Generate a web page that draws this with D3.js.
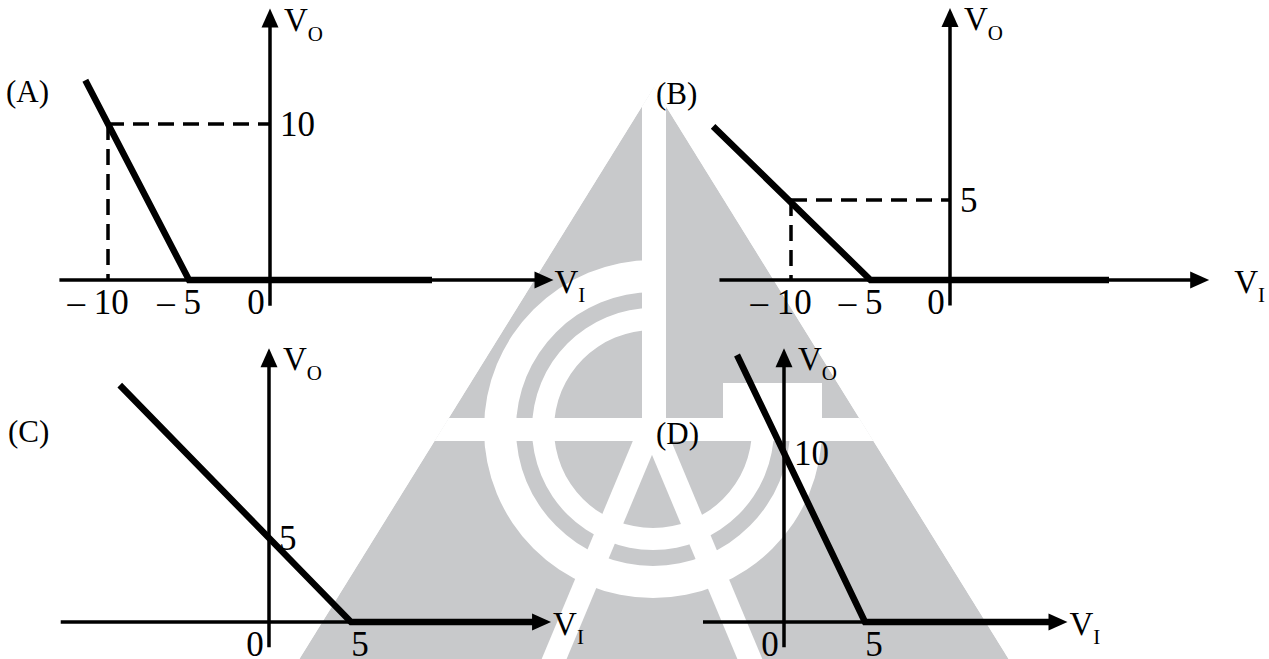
<!DOCTYPE html>
<html>
<head>
<meta charset="utf-8">
<script src="https://cdn.jsdelivr.net/npm/d3@7"></script>
<style>
  body { margin: 0; background: #fff; }
  svg { display: block; }
  text { font-family: "Liberation Serif", "Times New Roman", Times, serif; fill: #000; }
</style>
</head>
<body>
<script>
// transfer characteristics, four options
var panelNames = ["(A)", "(B)", "(C)", "(D)"];

var viA = [-11.4, -5, 10],  voA = [12.8, 0, 0];
var viB = [-14.9, -5, 10],  voB = [9.6, 0, 0];
var viC = [-9.1, 5, 16.2],  voC = [14.1, 0, 0];
var viD = [-2.9, 5, 16.4],  voD = [15.8, 0, 0];

var xTicksA = [-10, -5, 0], xTicksB = [-10, -5, 0], xTicksC = [0, 5], xTicksD = [0, 5];
var yTicksA = [10], yTicksB = [5], yTicksC = [5], yTicksD = [10];

// dashed guide to a point on the curve (A and B only)
var guideA = [-10, 10], guideB = [-10, 5];

var W = 1269, H = 659;
var gray = "#c8c9cb";

var svg = d3.select("body").append("svg")
    .attr("width", W).attr("height", H)
    .style("background", "#fff");

// ---- watermark (grey triangle logo) ----
var apex = [654, 87], side = 0.62;
var tri = [apex, [apex[0] - side * 613, 700], [apex[0] + side * 613, 700]];
svg.append("defs").append("clipPath").attr("id", "tri")
  .append("polygon").attr("points", tri.join(" "));

var wm = svg.append("g").attr("clip-path", "url(#tri)");
wm.append("polygon").attr("points", tri.join(" ")).attr("fill", gray);
wm.append("rect").attr("x", 642).attr("y", 60).attr("width", 24).attr("height", 360).attr("fill", "#fff");
wm.append("rect").attr("x", 250).attr("y", 418).attr("width", 800).attr("height", 23).attr("fill", "#fff");
wm.append("rect").attr("x", 723).attr("y", 383).attr("width", 99).attr("height", 36).attr("fill", "#fff");

var ring = d3.arc().startAngle(Math.PI / 2).endAngle(2 * Math.PI);
[[137, 169], [99, 121]].forEach(function (r) {
  wm.append("path")
    .attr("transform", "translate(653,429)")
    .attr("d", ring({innerRadius: r[0], outerRadius: r[1]}))
    .attr("fill", "#fff");
});
[[537, 700], [767, 700]].forEach(function (p) {
  wm.append("line")
    .attr("x1", 652).attr("y1", 425).attr("x2", p[0]).attr("y2", p[1])
    .attr("stroke", "#fff").attr("stroke-width", 23);
});

// ---- panels ----
// ox/oy = pixel origin, ux/uy = pixels per volt, xd/yd = axis extents in volts
var layout = [
  {ox: 270, oy: 280, ux: 16.2, uy: 15.6, xd: [-13, 17.5], yd: [-1.65, 17.4], lab: [6, 102],  viGap: 1},
  {ox: 950, oy: 280, ux: 15.9, uy: 16.0, xd: [-14.5, 16.3], yd: [-1.6, 17.0], lab: [656, 104], viGap: 25},
  {ox: 269, oy: 622, ux: 16.4, uy: 16.8, xd: [-12.7, 17.2], yd: [-1.5, 16.3], lab: [8, 442],  viGap: 2},
  {ox: 784, oy: 622, ux: 16.2, uy: 16.9, xd: [-5, 17.5],    yd: [-1.5, 16.2], lab: [656, 444], viGap: 2}
];
var curves = [[viA, voA], [viB, voB], [viC, voC], [viD, voD]];
var xTicks = [xTicksA, xTicksB, xTicksC, xTicksD];
var yTicks = [yTicksA, yTicksB, yTicksC, yTicksD];
var guides = [guideA, guideB, null, null];

var headLen = 19, headHalf = 8.5;

function fmt(v) { return v < 0 ? "\u2013 " + Math.abs(v) : String(v); }

layout.forEach(function (cfg, i) {
  var x = d3.scaleLinear().domain(cfg.xd).range(cfg.xd.map(function (v) { return cfg.ox + v * cfg.ux; }));
  var y = d3.scaleLinear().domain(cfg.yd).range(cfg.yd.map(function (v) { return cfg.oy - v * cfg.uy; }));
  var g = svg.append("g");

  var x0 = x(0), y0 = y(0);
  var xTip = x(cfg.xd[1]), yTip = y(cfg.yd[1]);

  // dashed guides
  var gd = guides[i];
  if (gd) {
    g.append("line").attr("x1", x(gd[0])).attr("y1", y(gd[1])).attr("x2", x(gd[0])).attr("y2", y0)
      .attr("stroke", "#000").attr("stroke-width", 3.5).attr("stroke-dasharray", "16,9");
    g.append("line").attr("x1", x(gd[0])).attr("y1", y(gd[1])).attr("x2", x0).attr("y2", y(gd[1]))
      .attr("stroke", "#000").attr("stroke-width", 3.5).attr("stroke-dasharray", "16,9");
  }

  // axes with arrow heads
  g.append("line").attr("x1", x(cfg.xd[0])).attr("y1", y0).attr("x2", xTip - headLen + 2).attr("y2", y0)
    .attr("stroke", "#000").attr("stroke-width", 3.5);
  g.append("path").attr("d", "M" + xTip + "," + y0 + "L" + (xTip - headLen) + "," + (y0 - headHalf) +
      "L" + (xTip - headLen) + "," + (y0 + headHalf) + "Z").attr("fill", "#000");
  g.append("line").attr("x1", x0).attr("y1", y(cfg.yd[0])).attr("x2", x0).attr("y2", yTip + headLen - 2)
    .attr("stroke", "#000").attr("stroke-width", 3.5);
  g.append("path").attr("d", "M" + x0 + "," + yTip + "L" + (x0 - headHalf) + "," + (yTip + headLen) +
      "L" + (x0 + headHalf) + "," + (yTip + headLen) + "Z").attr("fill", "#000");

  // transfer curve
  var c = curves[i];
  var pts = c[0].map(function (v, k) { return [v, c[1][k]]; });
  g.append("path")
    .attr("d", d3.line().x(function (d) { return x(d[0]); }).y(function (d) { return y(d[1]); })(pts))
    .attr("fill", "none").attr("stroke", "#000").attr("stroke-width", 6.5)
    .attr("stroke-linejoin", "miter");

  // tick labels
  xTicks[i].forEach(function (v) {
    var dx = v < 0 ? -10 : (v === 0 ? -14 : 9);
    g.append("text").attr("x", x(v) + dx).attr("y", y0 + 34)
      .attr("text-anchor", "middle").attr("font-size", 35)
      .text(fmt(v));
  });
  yTicks[i].forEach(function (v) {
    g.append("text").attr("x", x0 + 10).attr("y", y(v) + 12)
      .attr("font-size", 35).text(fmt(v));
  });

  // axis names
  var vo = g.append("text").attr("x", x0 + 14).attr("y", yTip + 22)
    .attr("font-size", 33);
  vo.append("tspan").text("V");
  vo.append("tspan").attr("font-size", 21).attr("dy", 10).text("O");

  var vi = g.append("text").attr("x", xTip + cfg.viGap).attr("y", y0 + 13)
    .attr("font-size", 33);
  vi.append("tspan").text("V");
  vi.append("tspan").attr("font-size", 21).attr("dy", 9).text("I");

  // option letter
  g.append("text").attr("x", cfg.lab[0]).attr("y", cfg.lab[1])
    .attr("font-size", 31).text(panelNames[i]);
});
</script>
</body>
</html>
